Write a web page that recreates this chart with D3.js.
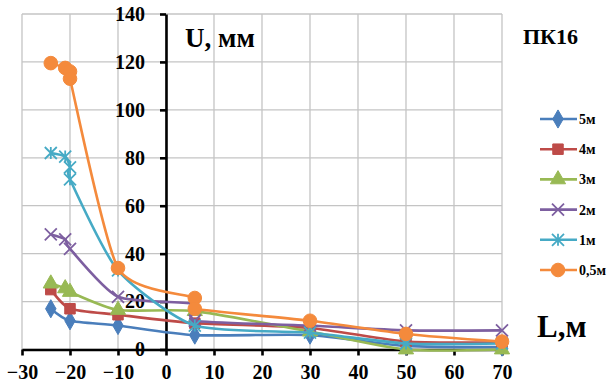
<!DOCTYPE html>
<html>
<head>
<meta charset="utf-8">
<script src="https://cdn.jsdelivr.net/npm/d3@7"></script>
<style>
  body { margin: 0; background: #fff; }
  svg { display: block; }
  text { font-family: "Liberation Serif", "DejaVu Serif", serif; font-weight: bold; fill: #000; }
</style>
</head>
<body>
<div id="chart"></div>
<script>
// series names and colours (legend order)
const seriesNames = ["5м", "4м", "3м", "2м", "1м", "0,5м"];
const seriesColors = ["#4A7EBB", "#BE4B48", "#98B954", "#7D5FA0", "#46AAC5", "#F48A3C"];
const seriesMarkers = ["diamond", "square", "triangle", "x", "asterisk", "circle"];

// L (m) and U (mm) per series
const L_5m = [-24, -20, -10, 6, 30, 50, 70];
const U_5m = [17, 12, 10, 6, 6, 1.5, 1];
const L_4m = [-24, -20, -10, 6, 30, 50, 70];
const U_4m = [25, 17, 14.5, 11, 9, 3.3, 3];
const L_3m = [-24, -21, -20, -10, 6, 30, 50, 70];
const U_3m = [27.5, 25.5, 24, 16.5, 16, 7.5, 0, 0];
const L_2m = [-24, -21, -20, -10, 6, 6, 30, 50, 70];
const U_2m = [48, 46, 42, 22, 19, 12, 10, 8, 8];
const L_1m = [-24, -21, -20, -20, -10, 6, 30, 50, 70];
const U_1m = [82, 80.5, 76, 71, 33, 10, 7, 2.5, 2.5];
const L_05m = [-24, -21, -20, -20, -10, 6, 6, 30, 50, 70];
const U_05m = [119.5, 117.5, 116, 113, 34, 21.5, 17, 12, 6.5, 3.3];

const seriesL = [L_5m, L_4m, L_3m, L_2m, L_1m, L_05m];
const seriesU = [U_5m, U_4m, U_3m, U_2m, U_1m, U_05m];

// axis ticks
const xTicks = [-30, -20, -10, 0, 10, 20, 30, 40, 50, 60, 70];
const yTicks = [0, 20, 40, 60, 80, 100, 120, 140];

const W = 616, H = 385;

const svg = d3.select("#chart").append("svg")
  .attr("width", W)
  .attr("height", H);

const x = d3.scaleLinear().domain([-30, 70]).range([22, 502]);
const y = d3.scaleLinear().domain([0, 140]).range([349.5, 14]);

// grid
svg.append("g").selectAll("line.v")
  .data(xTicks)
  .enter().append("line")
  .attr("x1", d => x(d)).attr("x2", d => x(d))
  .attr("y1", y(0)).attr("y2", y(140))
  .attr("stroke", "#c4c4c4").attr("stroke-width", 1.3);

svg.append("g").selectAll("line.h")
  .data(yTicks)
  .enter().append("line")
  .attr("x1", x(-30)).attr("x2", x(70))
  .attr("y1", d => y(d)).attr("y2", d => y(d))
  .attr("stroke", "#c4c4c4").attr("stroke-width", 1.3);

// axes through zero
const xAxis = svg.append("g")
  .attr("transform", "translate(0," + y(0) + ")")
  .call(d3.axisBottom(x).tickValues(xTicks).tickSize(6).tickSizeOuter(0).tickPadding(9));

const yAxis = svg.append("g")
  .attr("transform", "translate(" + x(0) + ",0)")
  .call(d3.axisLeft(y).tickValues(yTicks).tickSize(6).tickSizeOuter(0).tickPadding(15));

[xAxis, yAxis].forEach(a => {
  a.select(".domain").attr("stroke", "#000").attr("stroke-width", 2.6);
  a.selectAll(".tick line").attr("stroke", "#000").attr("stroke-width", 2.6);
  a.selectAll(".tick text")
    .attr("fill", "#000")
    .style("font-family", "'Liberation Serif', serif")
    .style("font-weight", "bold")
    .style("font-size", "20px");
});

// markers
function drawMarker(g, type, color) {
  if (type === "diamond") {
    g.append("path").attr("d", d3.symbol(d3.symbolDiamond, 95)())
      .attr("fill", color).attr("stroke", color);
  } else if (type === "square") {
    g.append("path").attr("d", d3.symbol(d3.symbolSquare, 110)())
      .attr("fill", color).attr("stroke", color);
  } else if (type === "triangle") {
    g.append("path").attr("d", d3.symbol(d3.symbolTriangle, 100)())
      .attr("fill", color).attr("stroke", color);
  } else if (type === "x") {
    g.append("path").attr("d", "M-6,-6L6,6M-6,6L6,-6")
      .attr("fill", "none").attr("stroke", color).attr("stroke-width", 1.8);
  } else if (type === "asterisk") {
    g.append("path").attr("d", "M-6,-6L6,6M-6,6L6,-6M0,-6L0,6")
      .attr("fill", "none").attr("stroke", color).attr("stroke-width", 1.8);
  } else if (type === "circle") {
    g.append("circle").attr("r", 6.8).attr("fill", color).attr("stroke", color);
  }
}

const line = d3.line()
  .x(d => x(d.L))
  .y(d => y(d.U))
  .curve(d3.curveCardinal.tension(0.35));

for (let i = 0; i < seriesNames.length; i++) {
  let pts = seriesL[i].map((l, j) => ({L: l, U: seriesU[i][j]}));
  let color = seriesColors[i];
  let g = svg.append("g");

  //draw the line
  g.append("path")
    .datum(pts)
    .attr("d", line)
    .attr("fill", "none")
    .attr("stroke", color)
    .attr("stroke-width", 2.6);

  //draw the markers
  pts.forEach(p => {
    let m = g.append("g").attr("transform", "translate(" + x(p.L) + "," + y(p.U) + ")");
    drawMarker(m, seriesMarkers[i], color);
  });
}

// legend
const legend = svg.append("g");
seriesNames.forEach((name, i) => {
  let ly = 119 + i * 30.2;
  legend.append("line")
    .attr("x1", 540).attr("x2", 577)
    .attr("y1", ly).attr("y2", ly)
    .attr("stroke", seriesColors[i]).attr("stroke-width", 2.6);
  let m = legend.append("g").attr("transform", "translate(558," + ly + ")");
  drawMarker(m, seriesMarkers[i], seriesColors[i]);
  legend.append("text")
    .attr("x", 579).attr("y", ly + 5)
    .style("font-size", "14px")
    .text(name);
});

// titles
svg.append("text").attr("x", 185).attr("y", 47).style("font-size", "27px").text("U, мм");
svg.append("text").attr("x", 523).attr("y", 44).style("font-size", "22px").text("ПК16");
svg.append("text").attr("x", 537).attr("y", 337).style("font-size", "31px").text("L,м");
</script>
</body>
</html>
